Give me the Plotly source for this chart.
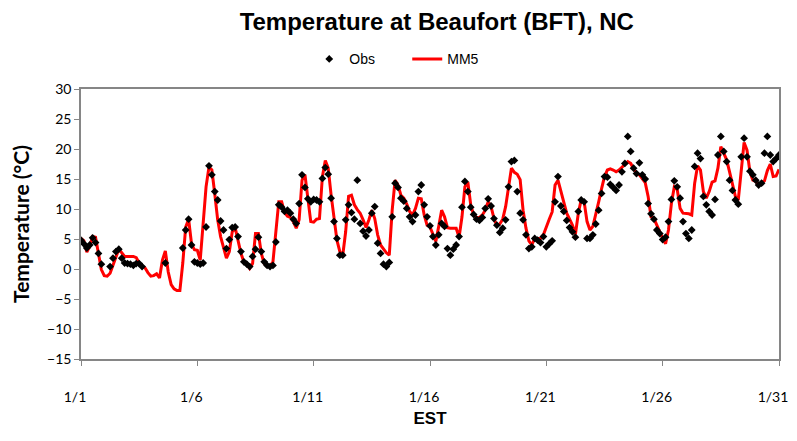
import pandas as pd
import plotly.graph_objects as go

# 3-hourly samples starting 1/1 00:00 EST
times = pd.date_range("2006-01-01", periods=241, freq="3h")

mm5 = [
    5.1, 4.7, 2.8, 3.8, 5.4, 5.3, 2.6, -0.1,
    -1.1, -1.2, -0.7, 0.7, 2.2, 3.3, 2.7, 2.1,
    2.1, 2.1, 2.1, 1.9, 1.0, 0.5, 0.2, -0.6,
    -1.2, -1.1, -0.8, -1.5, 1.5, 3.0, -0.5, -2.6,
    -3.3, -3.6, -3.6, 1.0, 7.0, 8.3, 4.2, 3.2,
    3.1, 1.5, 8.0, 13.7, 17.0, 16.5, 12.5, 8.2,
    5.4, 3.7, 1.8, 2.9, 6.2, 6.9, 4.8, 2.6,
    1.2, 0.8, 0.1, 0.9, 5.9, 5.9, 2.6, 0.9,
    0.4, 0.4, 1.2, 6.5, 11.2, 11.2, 9.4, 8.8,
    8.6, 7.9, 6.8, 8.2, 14.8, 15.7, 11.5, 7.9,
    7.8, 8.3, 8.4, 15.4, 18.1, 16.8, 12.3, 8.2,
    4.8, 2.9, 2.3, 6.2, 12.1, 12.3, 10.7, 9.9,
    9.3, 8.2, 6.9, 8.2, 9.8, 8.4, 5.7, 4.0,
    3.3, 2.7, 2.3, 9.8, 14.8, 14.0, 12.3, 11.8,
    10.8, 9.6, 9.0, 10.1, 11.8, 11.7, 9.0, 7.3,
    7.0, 5.9, 4.6, 7.1, 9.8, 8.7, 6.9, 6.8,
    6.8, 6.8, 5.3, 8.7, 13.7, 14.5, 10.7, 9.0,
    8.6, 8.6, 9.0, 9.8, 11.2, 10.4, 8.4, 7.2,
    7.5, 8.3, 10.4, 13.4, 16.8, 16.1, 15.8, 14.9,
    9.8, 6.8, 4.7, 4.0, 5.1, 5.1, 5.1, 5.7,
    7.1, 8.3, 9.5, 14.0, 14.8, 12.9, 10.9, 9.3,
    8.3, 7.3, 5.8, 9.3, 11.6, 11.2, 7.9, 6.5,
    7.1, 9.0, 11.2, 13.4, 15.4, 16.5, 16.7, 16.5,
    16.2, 16.5, 17.0, 17.5, 17.9, 17.6, 16.8, 15.9,
    15.7, 15.1, 14.4, 12.1, 8.7, 8.4, 7.3, 5.9,
    5.1, 4.2, 6.5, 10.9, 13.7, 13.3, 10.1, 9.3,
    9.3, 9.2, 9.0, 14.3, 17.2, 16.5, 12.9, 11.8,
    12.9, 14.5, 14.7, 16.8, 20.4, 19.3, 18.2, 16.2,
    14.0, 12.1, 11.5, 15.9, 21.1, 19.8, 16.2, 14.8,
    14.6, 14.0, 14.4, 14.7, 16.4, 17.5, 15.4, 15.5,
    16.6,
]

obs = [
    4.8, 4.2, 3.5, 4.0, 5.2, 4.4, 2.6, 0.8,
    None, None, 0.4, 1.8, 2.9, 3.3, 1.8, 1.0,
    0.9, 0.8, 0.6, 0.9, 0.9, 0.4, None, None,
    None, None, None, None, None, 1.0, None, None,
    None, None, None, 3.5, 6.5, 8.3, 4.0, 1.2,
    1.0, 0.8, 1.0, 7.0, 17.2, 15.7, 12.9, 11.5,
    8.0, 6.5, 3.4, 4.9, 6.9, 7.0, 5.4, 2.9,
    1.2, 0.8, 0.4, 2.1, 3.3, 5.3, 2.9, 1.2,
    0.6, 0.4, 0.6, 4.5, 10.7, 10.3, 9.6, 9.8,
    9.3, 8.3, 7.6, 10.9, 15.7, 13.6, 11.7, 11.2,
    11.6, 11.5, 11.2, 15.1, 16.9, 15.8, 11.8, 7.9,
    5.1, 2.3, 2.3, 8.2, 10.7, 9.4, 8.3, 14.8,
    7.6, 6.3, 5.5, 6.5, 9.3, 10.4, 4.3, 2.6,
    0.8, 0.4, 1.1, 8.7, 14.3, 13.6, 11.8, 11.3,
    10.1, 8.7, 7.9, 9.0, 12.9, 14.0, 10.7, 8.7,
    7.2, 5.4, 4.0, 5.7, 7.6, 7.1, 3.4, 2.3,
    3.3, 4.0, 5.4, 10.3, 14.6, 12.9, 10.3, 9.1,
    8.3, 8.1, 8.6, 10.1, 11.7, 10.5, 8.4, 7.3,
    6.1, 6.8, 8.2, 13.7, 17.9, 18.1, 12.9, 9.3,
    8.2, 5.7, 3.4, 3.7, 5.1, 4.8, 4.4, 5.4,
    3.7, 4.2, 4.7, 11.2, 15.4, 10.5, 9.6, 8.1,
    6.9, 6.2, 5.3, 9.6, 11.5, 11.2, 5.1, 5.1,
    5.7, 7.5, 9.8, 12.6, 15.4, 15.3, 14.1, 13.6,
    13.1, 14.0, 16.2, 17.6, 22.1, 19.6, 16.8, 15.9,
    17.7, 15.7, 15.0, 10.9, 9.2, 8.3, 6.5, 5.9,
    4.9, 5.3, 7.9, 11.6, 14.7, 13.7, 11.8, 7.9,
    5.9, 5.1, 6.5, 17.1, 19.3, 18.4, 12.1, 10.7,
    9.6, 9.0, 11.6, 19.0, 22.1, 19.6, 17.9, 14.8,
    13.1, 11.5, 10.8, 18.7, 21.8, 18.7, 16.3, 15.7,
    14.8, 14.0, 14.3, 19.3, 22.1, 19.0, 17.9, 18.4,
    19.0,
]

x_range = ["2006-01-01", "2006-01-31"]
y_range = [-15, 30]

AXIS_COLOR = "#868686"
NARROW = "Liberation Sans Narrow, Arial Narrow, Liberation Sans"
TICK_FONT = dict(family="Lato, Carlito, Liberation Sans", size=14, color="#000000")

fig = go.Figure()
fig.add_trace(go.Scatter(
    x=times, y=mm5, mode="lines", name="MM5",
    line=dict(color="#FF0000", width=3), legendrank=2,
))
fig.add_trace(go.Scatter(
    x=times, y=obs, mode="markers", name="Obs",
    marker=dict(symbol="diamond", size=6, color="#000000"),
    legendrank=1,
))

# page body adds an 8px margin on every side, so the figure fits inside it
fig.update_layout(
    width=781, height=425,
    margin=dict(l=73, r=10, t=81, b=74, autoexpand=False),
    paper_bgcolor="white", plot_bgcolor="white",
    title=dict(
        text="<b>Temperature at Beaufort (BFT), NC</b>",
        x=0.549, xanchor="center", y=0.967, yanchor="middle",
        font=dict(family=NARROW, size=24, color="#000000"),
    ),
    legend=dict(
        orientation="h", x=0.327, xanchor="left", y=1.11, yanchor="middle",
        font=dict(family=NARROW, size=14, color="#000000"),
        bgcolor="rgba(0,0,0,0)", itemwidth=30,
        entrywidth=53, entrywidthmode="pixels",
    ),
    showlegend=True,
)

fig.update_xaxes(
    range=x_range, type="date", automargin=False,
    tick0="2006-01-01", dtick=5 * 86400000, tickformat="%-m/%-d",
    showgrid=False, zeroline=False,
    showline=True, linecolor=AXIS_COLOR, linewidth=1.5, mirror=True,
    ticks="outside", ticklen=5, tickcolor=AXIS_COLOR,
    ticklabelstandoff=19, ticklabeloverflow="allow", ticklabelshift=-6,
    tickfont=TICK_FONT,
    title=dict(text="<b>EST</b>", standoff=9,
               font=dict(family=NARROW, size=17, color="#000000")),
)
fig.update_yaxes(
    range=y_range, dtick=5, tick0=0, automargin=False,
    showgrid=False, zeroline=False,
    showline=True, linecolor=AXIS_COLOR, linewidth=1.5, mirror=True,
    ticks="outside", ticklen=5, tickcolor=AXIS_COLOR,
    tickfont=TICK_FONT,
    title=dict(text="<b>Temperature (°C)</b>", standoff=12,
               font=dict(family="Lato, Carlito, Liberation Sans", size=21, color="#000000")),
)

fig.write_html("out.html")
